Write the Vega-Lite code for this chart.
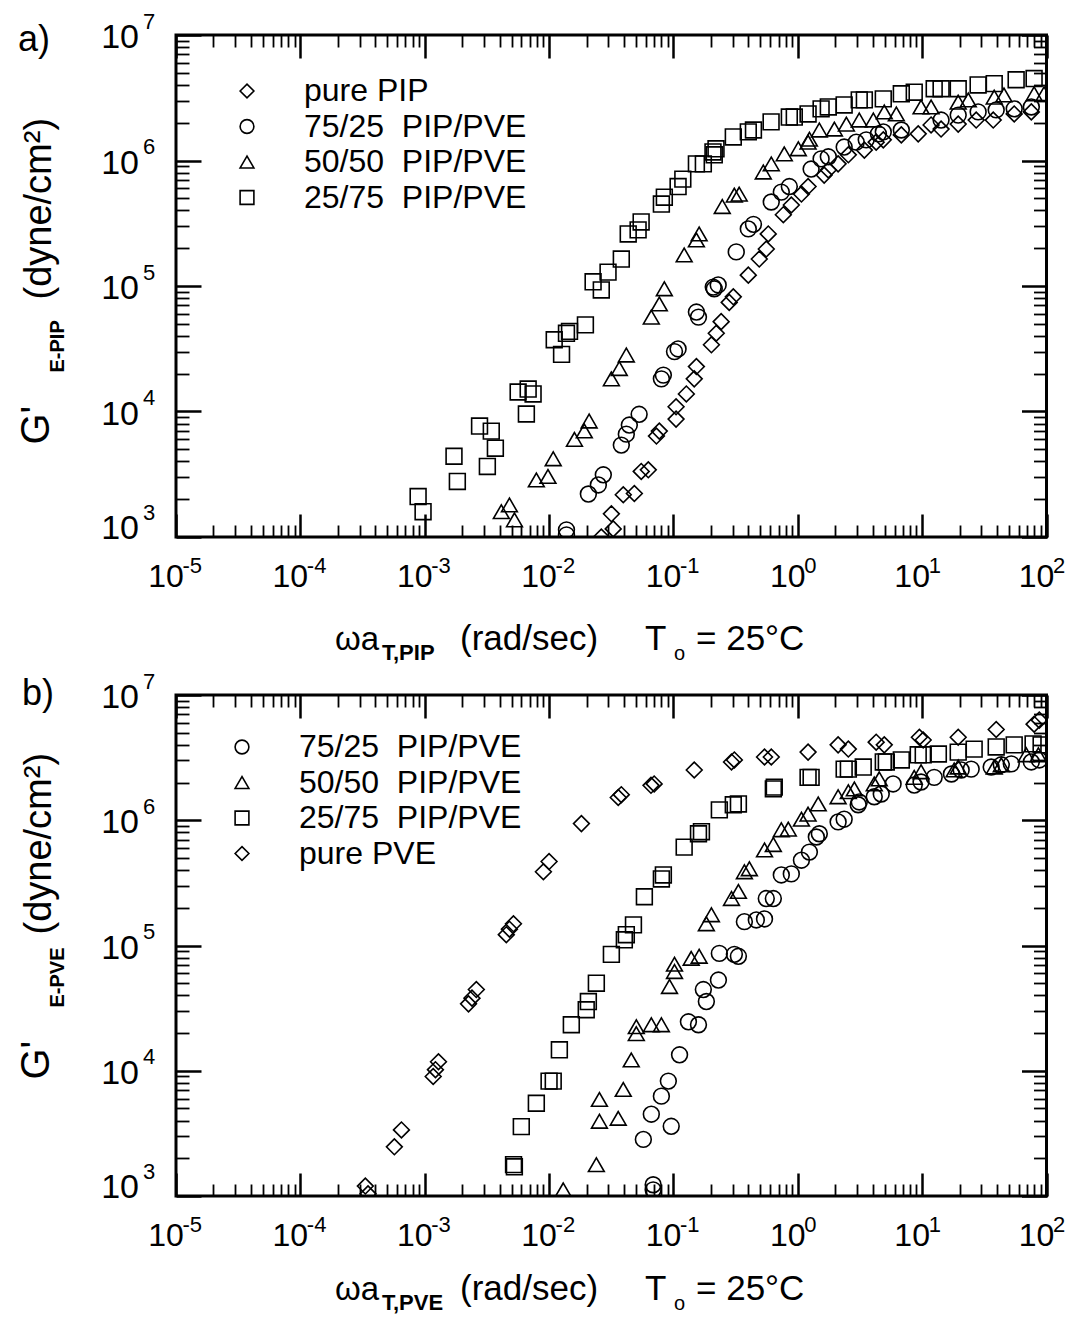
{
"$schema":"https://vega.github.io/schema/vega-lite/v6.json",
"padding":{"left":15,"top":8,"right":5,"bottom":5},
"background":"white",
"config":{"font":"Liberation Sans","view":{"stroke":"black","strokeWidth":3},
 "axis":{"grid":false,"domain":false,"labelColor":"black","titleColor":"black","tickColor":"black","labelFlush":false,"labelOverlap":false,"labelBound":false,"titleFontWeight":"normal","labelFont":"Liberation Sans","titleFont":"Liberation Sans","titleAlign":"left","titleBaseline":"alphabetic"},
 "legend":{"labelFont":"Liberation Sans","labelColor":"black"}},
"datasets":{
"a":[
{"x":0.000885,"y":2100,"s":"25/75\u00a0\u00a0PIP/PVE"},{"x":0.00097,"y":1590,"s":"25/75\u00a0\u00a0PIP/PVE"},{"x":0.00172,"y":4400,"s":"25/75\u00a0\u00a0PIP/PVE"},{"x":0.00183,"y":2770,"s":"25/75\u00a0\u00a0PIP/PVE"},{"x":0.00276,"y":7660,"s":"25/75\u00a0\u00a0PIP/PVE"},{"x":0.00343,"y":6980,"s":"25/75\u00a0\u00a0PIP/PVE"},{"x":0.0037,"y":5100,"s":"25/75\u00a0\u00a0PIP/PVE"},{"x":0.00319,"y":3650,"s":"25/75\u00a0\u00a0PIP/PVE"},{"x":0.00564,"y":14300,"s":"25/75\u00a0\u00a0PIP/PVE"},{"x":0.00679,"y":15100,"s":"25/75\u00a0\u00a0PIP/PVE"},{"x":0.00744,"y":13800,"s":"25/75\u00a0\u00a0PIP/PVE"},{"x":0.00657,"y":9550,"s":"25/75\u00a0\u00a0PIP/PVE"},{"x":0.011,"y":37300,"s":"25/75\u00a0\u00a0PIP/PVE"},{"x":0.0138,"y":42000,"s":"25/75\u00a0\u00a0PIP/PVE"},{"x":0.0146,"y":43500,"s":"25/75\u00a0\u00a0PIP/PVE"},{"x":0.0196,"y":49000,"s":"25/75\u00a0\u00a0PIP/PVE"},{"x":0.0126,"y":28500,"s":"25/75\u00a0\u00a0PIP/PVE"},{"x":0.0226,"y":108000,"s":"25/75\u00a0\u00a0PIP/PVE"},{"x":0.0263,"y":93000,"s":"25/75\u00a0\u00a0PIP/PVE"},{"x":0.0298,"y":129000,"s":"25/75\u00a0\u00a0PIP/PVE"},{"x":0.0381,"y":164000,"s":"25/75\u00a0\u00a0PIP/PVE"},{"x":0.0433,"y":260000,"s":"25/75\u00a0\u00a0PIP/PVE"},{"x":0.052,"y":280000,"s":"25/75\u00a0\u00a0PIP/PVE"},{"x":0.055,"y":324000,"s":"25/75\u00a0\u00a0PIP/PVE"},{"x":0.08,"y":450000,"s":"25/75\u00a0\u00a0PIP/PVE"},{"x":0.0845,"y":510000,"s":"25/75\u00a0\u00a0PIP/PVE"},{"x":0.109,"y":620000,"s":"25/75\u00a0\u00a0PIP/PVE"},{"x":0.119,"y":710000,"s":"25/75\u00a0\u00a0PIP/PVE"},{"x":0.153,"y":940000,"s":"25/75\u00a0\u00a0PIP/PVE"},{"x":0.208,"y":1170000,"s":"25/75\u00a0\u00a0PIP/PVE"},{"x":0.174,"y":940000,"s":"25/75\u00a0\u00a0PIP/PVE"},{"x":0.213,"y":1110000,"s":"25/75\u00a0\u00a0PIP/PVE"},{"x":0.22,"y":1240000,"s":"25/75\u00a0\u00a0PIP/PVE"},{"x":0.303,"y":1540000,"s":"25/75\u00a0\u00a0PIP/PVE"},{"x":0.4,"y":1690000,"s":"25/75\u00a0\u00a0PIP/PVE"},{"x":0.44,"y":1750000,"s":"25/75\u00a0\u00a0PIP/PVE"},{"x":0.61,"y":2030000,"s":"25/75\u00a0\u00a0PIP/PVE"},{"x":0.855,"y":2220000,"s":"25/75\u00a0\u00a0PIP/PVE"},{"x":0.937,"y":2220000,"s":"25/75\u00a0\u00a0PIP/PVE"},{"x":1.21,"y":2350000,"s":"25/75\u00a0\u00a0PIP/PVE"},{"x":1.54,"y":2580000,"s":"25/75\u00a0\u00a0PIP/PVE"},{"x":1.76,"y":2670000,"s":"25/75\u00a0\u00a0PIP/PVE"},{"x":2.36,"y":2770000,"s":"25/75\u00a0\u00a0PIP/PVE"},{"x":3.12,"y":3040000,"s":"25/75\u00a0\u00a0PIP/PVE"},{"x":3.43,"y":3040000,"s":"25/75\u00a0\u00a0PIP/PVE"},{"x":4.87,"y":3100000,"s":"25/75\u00a0\u00a0PIP/PVE"},{"x":6.8,"y":3400000,"s":"25/75\u00a0\u00a0PIP/PVE"},{"x":8.64,"y":3500000,"s":"25/75\u00a0\u00a0PIP/PVE"},{"x":12.5,"y":3730000,"s":"25/75\u00a0\u00a0PIP/PVE"},{"x":14.2,"y":3730000,"s":"25/75\u00a0\u00a0PIP/PVE"},{"x":19.5,"y":3730000,"s":"25/75\u00a0\u00a0PIP/PVE"},{"x":28.2,"y":4000000,"s":"25/75\u00a0\u00a0PIP/PVE"},{"x":38,"y":4100000,"s":"25/75\u00a0\u00a0PIP/PVE"},{"x":57,"y":4400000,"s":"25/75\u00a0\u00a0PIP/PVE"},{"x":79.5,"y":4500000,"s":"25/75\u00a0\u00a0PIP/PVE"},
{"x":0.00413,"y":1590,"s":"50/50\u00a0\u00a0PIP/PVE"},{"x":0.0048,"y":1800,"s":"50/50\u00a0\u00a0PIP/PVE"},{"x":0.00527,"y":1370,"s":"50/50\u00a0\u00a0PIP/PVE"},{"x":0.0079,"y":2850,"s":"50/50\u00a0\u00a0PIP/PVE"},{"x":0.0098,"y":3040,"s":"50/50\u00a0\u00a0PIP/PVE"},{"x":0.0108,"y":4200,"s":"50/50\u00a0\u00a0PIP/PVE"},{"x":0.016,"y":6000,"s":"50/50\u00a0\u00a0PIP/PVE"},{"x":0.0192,"y":7000,"s":"50/50\u00a0\u00a0PIP/PVE"},{"x":0.021,"y":8400,"s":"50/50\u00a0\u00a0PIP/PVE"},{"x":0.0317,"y":18200,"s":"50/50\u00a0\u00a0PIP/PVE"},{"x":0.0367,"y":22000,"s":"50/50\u00a0\u00a0PIP/PVE"},{"x":0.0418,"y":28200,"s":"50/50\u00a0\u00a0PIP/PVE"},{"x":0.0664,"y":56500,"s":"50/50\u00a0\u00a0PIP/PVE"},{"x":0.077,"y":72000,"s":"50/50\u00a0\u00a0PIP/PVE"},{"x":0.0845,"y":95000,"s":"50/50\u00a0\u00a0PIP/PVE"},{"x":0.122,"y":177000,"s":"50/50\u00a0\u00a0PIP/PVE"},{"x":0.153,"y":233000,"s":"50/50\u00a0\u00a0PIP/PVE"},{"x":0.161,"y":260000,"s":"50/50\u00a0\u00a0PIP/PVE"},{"x":0.247,"y":430000,"s":"50/50\u00a0\u00a0PIP/PVE"},{"x":0.309,"y":530000,"s":"50/50\u00a0\u00a0PIP/PVE"},{"x":0.338,"y":540000,"s":"50/50\u00a0\u00a0PIP/PVE"},{"x":0.528,"y":810000,"s":"50/50\u00a0\u00a0PIP/PVE"},{"x":0.612,"y":940000,"s":"50/50\u00a0\u00a0PIP/PVE"},{"x":0.779,"y":1130000,"s":"50/50\u00a0\u00a0PIP/PVE"},{"x":1.01,"y":1240000,"s":"50/50\u00a0\u00a0PIP/PVE"},{"x":1.21,"y":1400000,"s":"50/50\u00a0\u00a0PIP/PVE"},{"x":1.24,"y":1480000,"s":"50/50\u00a0\u00a0PIP/PVE"},{"x":1.49,"y":1750000,"s":"50/50\u00a0\u00a0PIP/PVE"},{"x":1.97,"y":1780000,"s":"50/50\u00a0\u00a0PIP/PVE"},{"x":2.46,"y":1950000,"s":"50/50\u00a0\u00a0PIP/PVE"},{"x":3.12,"y":2100000,"s":"50/50\u00a0\u00a0PIP/PVE"},{"x":4.05,"y":2100000,"s":"50/50\u00a0\u00a0PIP/PVE"},{"x":4.96,"y":2440000,"s":"50/50\u00a0\u00a0PIP/PVE"},{"x":6.2,"y":2350000,"s":"50/50\u00a0\u00a0PIP/PVE"},{"x":9.8,"y":2670000,"s":"50/50\u00a0\u00a0PIP/PVE"},{"x":11.8,"y":2670000,"s":"50/50\u00a0\u00a0PIP/PVE"},{"x":19.5,"y":2920000,"s":"50/50\u00a0\u00a0PIP/PVE"},{"x":23.5,"y":3040000,"s":"50/50\u00a0\u00a0PIP/PVE"},{"x":38,"y":3200000,"s":"50/50\u00a0\u00a0PIP/PVE"},{"x":45.5,"y":3330000,"s":"50/50\u00a0\u00a0PIP/PVE"},{"x":79.5,"y":3400000,"s":"50/50\u00a0\u00a0PIP/PVE"},{"x":95.6,"y":3400000,"s":"50/50\u00a0\u00a0PIP/PVE"},
{"x":0.0138,"y":1140,"s":"75/25\u00a0\u00a0PIP/PVE"},{"x":0.0138,"y":1040,"s":"75/25\u00a0\u00a0PIP/PVE"},{"x":0.0207,"y":2200,"s":"75/25\u00a0\u00a0PIP/PVE"},{"x":0.0249,"y":2600,"s":"75/25\u00a0\u00a0PIP/PVE"},{"x":0.0273,"y":3130,"s":"75/25\u00a0\u00a0PIP/PVE"},{"x":0.0381,"y":5400,"s":"75/25\u00a0\u00a0PIP/PVE"},{"x":0.0418,"y":6600,"s":"75/25\u00a0\u00a0PIP/PVE"},{"x":0.053,"y":9500,"s":"75/25\u00a0\u00a0PIP/PVE"},{"x":0.0442,"y":7800,"s":"75/25\u00a0\u00a0PIP/PVE"},{"x":0.08,"y":18200,"s":"75/25\u00a0\u00a0PIP/PVE"},{"x":0.083,"y":19500,"s":"75/25\u00a0\u00a0PIP/PVE"},{"x":0.102,"y":30000,"s":"75/25\u00a0\u00a0PIP/PVE"},{"x":0.109,"y":31500,"s":"75/25\u00a0\u00a0PIP/PVE"},{"x":0.153,"y":62000,"s":"75/25\u00a0\u00a0PIP/PVE"},{"x":0.159,"y":56500,"s":"75/25\u00a0\u00a0PIP/PVE"},{"x":0.213,"y":95000,"s":"75/25\u00a0\u00a0PIP/PVE"},{"x":0.209,"y":98000,"s":"75/25\u00a0\u00a0PIP/PVE"},{"x":0.229,"y":102000,"s":"75/25\u00a0\u00a0PIP/PVE"},{"x":0.32,"y":187000,"s":"75/25\u00a0\u00a0PIP/PVE"},{"x":0.4,"y":285000,"s":"75/25\u00a0\u00a0PIP/PVE"},{"x":0.44,"y":310000,"s":"75/25\u00a0\u00a0PIP/PVE"},{"x":0.612,"y":467000,"s":"75/25\u00a0\u00a0PIP/PVE"},{"x":0.737,"y":560000,"s":"75/25\u00a0\u00a0PIP/PVE"},{"x":0.855,"y":620000,"s":"75/25\u00a0\u00a0PIP/PVE"},{"x":1.28,"y":855000,"s":"75/25\u00a0\u00a0PIP/PVE"},{"x":1.54,"y":1030000,"s":"75/25\u00a0\u00a0PIP/PVE"},{"x":1.76,"y":1070000,"s":"75/25\u00a0\u00a0PIP/PVE"},{"x":2.36,"y":1280000,"s":"75/25\u00a0\u00a0PIP/PVE"},{"x":2.95,"y":1400000,"s":"75/25\u00a0\u00a0PIP/PVE"},{"x":3.55,"y":1460000,"s":"75/25\u00a0\u00a0PIP/PVE"},{"x":4.45,"y":1630000,"s":"75/25\u00a0\u00a0PIP/PVE"},{"x":4.87,"y":1690000,"s":"75/25\u00a0\u00a0PIP/PVE"},{"x":6.8,"y":1750000,"s":"75/25\u00a0\u00a0PIP/PVE"},{"x":14.2,"y":2100000,"s":"75/25\u00a0\u00a0PIP/PVE"},{"x":19.5,"y":2300000,"s":"75/25\u00a0\u00a0PIP/PVE"},{"x":28.2,"y":2440000,"s":"75/25\u00a0\u00a0PIP/PVE"},{"x":39.4,"y":2530000,"s":"75/25\u00a0\u00a0PIP/PVE"},{"x":55,"y":2580000,"s":"75/25\u00a0\u00a0PIP/PVE"},{"x":75.5,"y":2670000,"s":"75/25\u00a0\u00a0PIP/PVE"},
{"x":0.0263,"y":1000,"s":"\u00a0pure PIP"},{"x":0.0328,"y":1160,"s":"\u00a0pure PIP"},{"x":0.0317,"y":1530,"s":"\u00a0pure PIP"},{"x":0.0395,"y":2170,"s":"\u00a0pure PIP"},{"x":0.0485,"y":2220,"s":"\u00a0pure PIP"},{"x":0.0551,"y":3330,"s":"\u00a0pure PIP"},{"x":0.0628,"y":3430,"s":"\u00a0pure PIP"},{"x":0.073,"y":6370,"s":"\u00a0pure PIP"},{"x":0.077,"y":6980,"s":"\u00a0pure PIP"},{"x":0.105,"y":8700,"s":"\u00a0pure PIP"},{"x":0.105,"y":10900,"s":"\u00a0pure PIP"},{"x":0.127,"y":13800,"s":"\u00a0pure PIP"},{"x":0.147,"y":18200,"s":"\u00a0pure PIP"},{"x":0.153,"y":22800,"s":"\u00a0pure PIP"},{"x":0.202,"y":34000,"s":"\u00a0pure PIP"},{"x":0.221,"y":42000,"s":"\u00a0pure PIP"},{"x":0.242,"y":52000,"s":"\u00a0pure PIP"},{"x":0.281,"y":74000,"s":"\u00a0pure PIP"},{"x":0.303,"y":82000,"s":"\u00a0pure PIP"},{"x":0.4,"y":122000,"s":"\u00a0pure PIP"},{"x":0.49,"y":164000,"s":"\u00a0pure PIP"},{"x":0.558,"y":197000,"s":"\u00a0pure PIP"},{"x":0.579,"y":260000,"s":"\u00a0pure PIP"},{"x":0.765,"y":370000,"s":"\u00a0pure PIP"},{"x":0.887,"y":442000,"s":"\u00a0pure PIP"},{"x":1.07,"y":540000,"s":"\u00a0pure PIP"},{"x":1.21,"y":620000,"s":"\u00a0pure PIP"},{"x":1.63,"y":765000,"s":"\u00a0pure PIP"},{"x":1.76,"y":840000,"s":"\u00a0pure PIP"},{"x":2.11,"y":940000,"s":"\u00a0pure PIP"},{"x":2.55,"y":1110000,"s":"\u00a0pure PIP"},{"x":3.43,"y":1210000,"s":"\u00a0pure PIP"},{"x":4.27,"y":1400000,"s":"\u00a0pure PIP"},{"x":4.87,"y":1460000,"s":"\u00a0pure PIP"},{"x":6.8,"y":1600000,"s":"\u00a0pure PIP"},{"x":9.3,"y":1630000,"s":"\u00a0pure PIP"},{"x":11.8,"y":1920000,"s":"\u00a0pure PIP"},{"x":14.2,"y":1780000,"s":"\u00a0pure PIP"},{"x":19.5,"y":1950000,"s":"\u00a0pure PIP"},{"x":27.2,"y":2100000,"s":"\u00a0pure PIP"},{"x":37.3,"y":2100000,"s":"\u00a0pure PIP"},{"x":55,"y":2350000,"s":"\u00a0pure PIP"},{"x":75.5,"y":2440000,"s":"\u00a0pure PIP"}
],
"b":[
{"x":0.000333,"y":1200,"s":"pure PVE"},{"x":0.00035,"y":1040,"s":"pure PVE"},{"x":0.00057,"y":2470,"s":"pure PVE"},{"x":0.00065,"y":3370,"s":"pure PVE"},{"x":0.00117,"y":9000,"s":"pure PVE"},{"x":0.00122,"y":10200,"s":"pure PVE"},{"x":0.00129,"y":11800,"s":"pure PVE"},{"x":0.00225,"y":34200,"s":"pure PVE"},{"x":0.0024,"y":38000,"s":"pure PVE"},{"x":0.0026,"y":44500,"s":"pure PVE"},{"x":0.00453,"y":122000,"s":"pure PVE"},{"x":0.0048,"y":135000,"s":"pure PVE"},{"x":0.00517,"y":149000,"s":"pure PVE"},{"x":0.009,"y":388000,"s":"pure PVE"},{"x":0.01,"y":468000,"s":"pure PVE"},{"x":0.0182,"y":940000,"s":"pure PVE"},{"x":0.036,"y":1520000,"s":"pure PVE"},{"x":0.0381,"y":1600000,"s":"pure PVE"},{"x":0.066,"y":1900000,"s":"pure PVE"},{"x":0.07,"y":1950000,"s":"pure PVE"},{"x":0.147,"y":2520000,"s":"pure PVE"},{"x":0.293,"y":2920000,"s":"pure PVE"},{"x":0.309,"y":3030000,"s":"pure PVE"},{"x":0.54,"y":3200000,"s":"pure PVE"},{"x":0.612,"y":3200000,"s":"pure PVE"},{"x":1.21,"y":3500000,"s":"pure PVE"},{"x":2.11,"y":4000000,"s":"pure PVE"},{"x":2.55,"y":3700000,"s":"pure PVE"},{"x":4.27,"y":4200000,"s":"pure PVE"},{"x":4.96,"y":4000000,"s":"pure PVE"},{"x":9.5,"y":4600000,"s":"pure PVE"},{"x":10.2,"y":4370000,"s":"pure PVE"},{"x":19.5,"y":4600000,"s":"pure PVE"},{"x":39.4,"y":5300000,"s":"pure PVE"},{"x":79.5,"y":5850000,"s":"pure PVE"},{"x":87.5,"y":6300000,"s":"pure PVE"},
{"x":0.00518,"y":1780,"s":"25/75\u00a0\u00a0PIP/PVE"},{"x":0.00526,"y":1710,"s":"25/75\u00a0\u00a0PIP/PVE"},{"x":0.00598,"y":3580,"s":"25/75\u00a0\u00a0PIP/PVE"},{"x":0.0079,"y":5500,"s":"25/75\u00a0\u00a0PIP/PVE"},{"x":0.01,"y":8270,"s":"25/75\u00a0\u00a0PIP/PVE"},{"x":0.0108,"y":8270,"s":"25/75\u00a0\u00a0PIP/PVE"},{"x":0.0121,"y":14700,"s":"25/75\u00a0\u00a0PIP/PVE"},{"x":0.0151,"y":23300,"s":"25/75\u00a0\u00a0PIP/PVE"},{"x":0.0199,"y":30700,"s":"25/75\u00a0\u00a0PIP/PVE"},{"x":0.0207,"y":35700,"s":"25/75\u00a0\u00a0PIP/PVE"},{"x":0.024,"y":50000,"s":"25/75\u00a0\u00a0PIP/PVE"},{"x":0.0317,"y":85000,"s":"25/75\u00a0\u00a0PIP/PVE"},{"x":0.0403,"y":111000,"s":"25/75\u00a0\u00a0PIP/PVE"},{"x":0.0418,"y":122000,"s":"25/75\u00a0\u00a0PIP/PVE"},{"x":0.0477,"y":146000,"s":"25/75\u00a0\u00a0PIP/PVE"},{"x":0.0584,"y":245000,"s":"25/75\u00a0\u00a0PIP/PVE"},{"x":0.08,"y":340000,"s":"25/75\u00a0\u00a0PIP/PVE"},{"x":0.083,"y":366000,"s":"25/75\u00a0\u00a0PIP/PVE"},{"x":0.122,"y":610000,"s":"25/75\u00a0\u00a0PIP/PVE"},{"x":0.159,"y":780000,"s":"25/75\u00a0\u00a0PIP/PVE"},{"x":0.168,"y":810000,"s":"25/75\u00a0\u00a0PIP/PVE"},{"x":0.234,"y":1210000,"s":"25/75\u00a0\u00a0PIP/PVE"},{"x":0.303,"y":1330000,"s":"25/75\u00a0\u00a0PIP/PVE"},{"x":0.333,"y":1350000,"s":"25/75\u00a0\u00a0PIP/PVE"},{"x":0.636,"y":1780000,"s":"25/75\u00a0\u00a0PIP/PVE"},{"x":0.647,"y":1840000,"s":"25/75\u00a0\u00a0PIP/PVE"},{"x":1.21,"y":2200000,"s":"25/75\u00a0\u00a0PIP/PVE"},{"x":1.28,"y":2200000,"s":"25/75\u00a0\u00a0PIP/PVE"},{"x":2.36,"y":2560000,"s":"25/75\u00a0\u00a0PIP/PVE"},{"x":2.55,"y":2560000,"s":"25/75\u00a0\u00a0PIP/PVE"},{"x":3.36,"y":2660000,"s":"25/75\u00a0\u00a0PIP/PVE"},{"x":4.87,"y":2920000,"s":"25/75\u00a0\u00a0PIP/PVE"},{"x":5.15,"y":2920000,"s":"25/75\u00a0\u00a0PIP/PVE"},{"x":6.8,"y":3030000,"s":"25/75\u00a0\u00a0PIP/PVE"},{"x":9.3,"y":3330000,"s":"25/75\u00a0\u00a0PIP/PVE"},{"x":10.2,"y":3330000,"s":"25/75\u00a0\u00a0PIP/PVE"},{"x":13.5,"y":3380000,"s":"25/75\u00a0\u00a0PIP/PVE"},{"x":19.5,"y":3500000,"s":"25/75\u00a0\u00a0PIP/PVE"},{"x":26.2,"y":3700000,"s":"25/75\u00a0\u00a0PIP/PVE"},{"x":39.4,"y":3850000,"s":"25/75\u00a0\u00a0PIP/PVE"},{"x":55,"y":4000000,"s":"25/75\u00a0\u00a0PIP/PVE"},{"x":78,"y":4070000,"s":"25/75\u00a0\u00a0PIP/PVE"},{"x":90.5,"y":4000000,"s":"25/75\u00a0\u00a0PIP/PVE"},
{"x":0.013,"y":1120,"s":"50/50\u00a0\u00a0PIP/PVE"},{"x":0.024,"y":1780,"s":"50/50\u00a0\u00a0PIP/PVE"},{"x":0.0254,"y":3950,"s":"50/50\u00a0\u00a0PIP/PVE"},{"x":0.036,"y":4170,"s":"50/50\u00a0\u00a0PIP/PVE"},{"x":0.0254,"y":5900,"s":"50/50\u00a0\u00a0PIP/PVE"},{"x":0.0395,"y":7100,"s":"50/50\u00a0\u00a0PIP/PVE"},{"x":0.0458,"y":12200,"s":"50/50\u00a0\u00a0PIP/PVE"},{"x":0.0503,"y":19800,"s":"50/50\u00a0\u00a0PIP/PVE"},{"x":0.0503,"y":22500,"s":"50/50\u00a0\u00a0PIP/PVE"},{"x":0.0664,"y":23300,"s":"50/50\u00a0\u00a0PIP/PVE"},{"x":0.08,"y":23300,"s":"50/50\u00a0\u00a0PIP/PVE"},{"x":0.093,"y":47000,"s":"50/50\u00a0\u00a0PIP/PVE"},{"x":0.102,"y":62000,"s":"50/50\u00a0\u00a0PIP/PVE"},{"x":0.102,"y":71000,"s":"50/50\u00a0\u00a0PIP/PVE"},{"x":0.139,"y":79000,"s":"50/50\u00a0\u00a0PIP/PVE"},{"x":0.161,"y":82000,"s":"50/50\u00a0\u00a0PIP/PVE"},{"x":0.184,"y":149000,"s":"50/50\u00a0\u00a0PIP/PVE"},{"x":0.202,"y":176000,"s":"50/50\u00a0\u00a0PIP/PVE"},{"x":0.293,"y":237000,"s":"50/50\u00a0\u00a0PIP/PVE"},{"x":0.333,"y":270000,"s":"50/50\u00a0\u00a0PIP/PVE"},{"x":0.372,"y":388000,"s":"50/50\u00a0\u00a0PIP/PVE"},{"x":0.408,"y":410000,"s":"50/50\u00a0\u00a0PIP/PVE"},{"x":0.54,"y":580000,"s":"50/50\u00a0\u00a0PIP/PVE"},{"x":0.636,"y":640000,"s":"50/50\u00a0\u00a0PIP/PVE"},{"x":0.737,"y":840000,"s":"50/50\u00a0\u00a0PIP/PVE"},{"x":0.839,"y":850000,"s":"50/50\u00a0\u00a0PIP/PVE"},{"x":1.07,"y":1020000,"s":"50/50\u00a0\u00a0PIP/PVE"},{"x":1.21,"y":1120000,"s":"50/50\u00a0\u00a0PIP/PVE"},{"x":1.46,"y":1350000,"s":"50/50\u00a0\u00a0PIP/PVE"},{"x":2.11,"y":1540000,"s":"50/50\u00a0\u00a0PIP/PVE"},{"x":2.55,"y":1690000,"s":"50/50\u00a0\u00a0PIP/PVE"},{"x":2.85,"y":1780000,"s":"50/50\u00a0\u00a0PIP/PVE"},{"x":4.12,"y":1950000,"s":"50/50\u00a0\u00a0PIP/PVE"},{"x":4.52,"y":2140000,"s":"50/50\u00a0\u00a0PIP/PVE"},{"x":8.64,"y":2200000,"s":"50/50\u00a0\u00a0PIP/PVE"},{"x":9.8,"y":2440000,"s":"50/50\u00a0\u00a0PIP/PVE"},{"x":18.1,"y":2520000,"s":"50/50\u00a0\u00a0PIP/PVE"},{"x":19.5,"y":2660000,"s":"50/50\u00a0\u00a0PIP/PVE"},{"x":38,"y":2660000,"s":"50/50\u00a0\u00a0PIP/PVE"},{"x":43.3,"y":2770000,"s":"50/50\u00a0\u00a0PIP/PVE"},{"x":68.7,"y":3330000,"s":"50/50\u00a0\u00a0PIP/PVE"},{"x":86,"y":3330000,"s":"50/50\u00a0\u00a0PIP/PVE"},
{"x":0.0687,"y":1230,"s":"75/25\u00a0\u00a0PIP/PVE"},{"x":0.0687,"y":1120,"s":"75/25\u00a0\u00a0PIP/PVE"},{"x":0.0573,"y":2830,"s":"75/25\u00a0\u00a0PIP/PVE"},{"x":0.096,"y":3600,"s":"75/25\u00a0\u00a0PIP/PVE"},{"x":0.0664,"y":4500,"s":"75/25\u00a0\u00a0PIP/PVE"},{"x":0.08,"y":6270,"s":"75/25\u00a0\u00a0PIP/PVE"},{"x":0.091,"y":8270,"s":"75/25\u00a0\u00a0PIP/PVE"},{"x":0.112,"y":13400,"s":"75/25\u00a0\u00a0PIP/PVE"},{"x":0.132,"y":24600,"s":"75/25\u00a0\u00a0PIP/PVE"},{"x":0.159,"y":23300,"s":"75/25\u00a0\u00a0PIP/PVE"},{"x":0.184,"y":35700,"s":"75/25\u00a0\u00a0PIP/PVE"},{"x":0.174,"y":44500,"s":"75/25\u00a0\u00a0PIP/PVE"},{"x":0.23,"y":53000,"s":"75/25\u00a0\u00a0PIP/PVE"},{"x":0.234,"y":86500,"s":"75/25\u00a0\u00a0PIP/PVE"},{"x":0.309,"y":85000,"s":"75/25\u00a0\u00a0PIP/PVE"},{"x":0.333,"y":82000,"s":"75/25\u00a0\u00a0PIP/PVE"},{"x":0.372,"y":155000,"s":"75/25\u00a0\u00a0PIP/PVE"},{"x":0.464,"y":160000,"s":"75/25\u00a0\u00a0PIP/PVE"},{"x":0.54,"y":163000,"s":"75/25\u00a0\u00a0PIP/PVE"},{"x":0.558,"y":237000,"s":"75/25\u00a0\u00a0PIP/PVE"},{"x":0.636,"y":237000,"s":"75/25\u00a0\u00a0PIP/PVE"},{"x":0.737,"y":366000,"s":"75/25\u00a0\u00a0PIP/PVE"},{"x":0.887,"y":373000,"s":"75/25\u00a0\u00a0PIP/PVE"},{"x":1.07,"y":480000,"s":"75/25\u00a0\u00a0PIP/PVE"},{"x":1.24,"y":557000,"s":"75/25\u00a0\u00a0PIP/PVE"},{"x":1.41,"y":735000,"s":"75/25\u00a0\u00a0PIP/PVE"},{"x":1.49,"y":780000,"s":"75/25\u00a0\u00a0PIP/PVE"},{"x":2.11,"y":970000,"s":"75/25\u00a0\u00a0PIP/PVE"},{"x":2.36,"y":1020000,"s":"75/25\u00a0\u00a0PIP/PVE"},{"x":3.06,"y":1330000,"s":"75/25\u00a0\u00a0PIP/PVE"},{"x":3.12,"y":1400000,"s":"75/25\u00a0\u00a0PIP/PVE"},{"x":4.12,"y":1540000,"s":"75/25\u00a0\u00a0PIP/PVE"},{"x":4.69,"y":1620000,"s":"75/25\u00a0\u00a0PIP/PVE"},{"x":5.84,"y":1950000,"s":"75/25\u00a0\u00a0PIP/PVE"},{"x":8.64,"y":1910000,"s":"75/25\u00a0\u00a0PIP/PVE"},{"x":9.8,"y":2020000,"s":"75/25\u00a0\u00a0PIP/PVE"},{"x":12.5,"y":2200000,"s":"75/25\u00a0\u00a0PIP/PVE"},{"x":17.2,"y":2340000,"s":"75/25\u00a0\u00a0PIP/PVE"},{"x":20.6,"y":2520000,"s":"75/25\u00a0\u00a0PIP/PVE"},{"x":24.8,"y":2560000,"s":"75/25\u00a0\u00a0PIP/PVE"},{"x":35.9,"y":2660000,"s":"75/25\u00a0\u00a0PIP/PVE"},{"x":43.3,"y":2770000,"s":"75/25\u00a0\u00a0PIP/PVE"},{"x":52.1,"y":2820000,"s":"75/25\u00a0\u00a0PIP/PVE"},{"x":75.5,"y":2920000,"s":"75/25\u00a0\u00a0PIP/PVE"},{"x":87.5,"y":3030000,"s":"75/25\u00a0\u00a0PIP/PVE"}
]},
"spacing":158,
"bounds":"flush",
"resolve":{"scale":{"shape":"independent"}},
"vconcat":[
{"width":870.5,"height":502,"data":{"name":"a"},
 "resolve":{"axis":{"x":"independent","y":"independent"}},
 "layer":[
  {"mark":{"type":"point","filled":false,"stroke":"black","strokeWidth":1.6,"size":250,"clip":true,"opacity":1},
   "encoding":{
    "x":{"field":"x","type":"quantitative","scale":{"type":"log","domain":[0.00001,100],"nice":false},
      "axis":{"orient":"bottom","values":[0.00001,0.0001,0.001,0.01,0.1,1,10,100],"ticks":false,"labelFontSize":32,"labelPadding":24,"labelAlign":"center","labelBaseline":"top","labelOffset":-10.5,"labelExpr":"'10'",
       "title":"ωa","titleFontSize":33,"titleX":158.5,"titleY":112}},
    "y":{"field":"y","type":"quantitative","scale":{"type":"log","domain":[1000,10000000],"nice":false},
      "axis":{"orient":"left","values":[1000,10000,100000,1000000,10000000],"ticks":false,"labelFontSize":34,"labelPadding":37.5,"labelAlign":"right","labelBaseline":"middle",
       "labelOffset":{"condition":{"test":"datum.value < 2000","value":-8.5},"value":2.5},"labelExpr":"'10'",
       "title":"(dyne/cm²)","titleFontSize":38,"titleAngle":-90,"titleX":-125.5,"titleY":264}},
    "shape":{"field":"s","type":"nominal","scale":{"domain":["\u00a0pure PIP","75/25\u00a0\u00a0PIP/PVE","50/50\u00a0\u00a0PIP/PVE","25/75\u00a0\u00a0PIP/PVE"],"range":["diamond","circle","triangle-up","square"]},
      "legend":{"orient":"none","legendX":55,"legendY":40,"title":null,"labelFontSize":32,"symbolSize":190,"symbolStrokeWidth":1.6,"symbolStrokeColor":"black","symbolFillColor":"transparent","labelOffset":41,"rowPadding":3.5,"padding":0,"labelLimit":500}}
   }},
  {"mark":{"type":"point","opacity":0},
   "encoding":{
    "x":{"field":"x","type":"quantitative","scale":{"type":"log","domain":[0.00001,100],"nice":false},
      "axis":{"orient":"bottom","values":[0.00001,0.0001,0.001,0.01,0.1,1,10,100],"labels":false,"tickSize":-23,"tickWidth":2.5,"title":"T,PIP","titleFontSize":22,"titleFontWeight":"bold","titleX":205.5,"titleY":122}},
    "y":{"field":"y","type":"quantitative","scale":{"type":"log","domain":[1000,10000000],"nice":false},
      "axis":{"orient":"left","values":[1000,10000,100000,1000000,10000000],"labels":false,"tickSize":-25,"tickWidth":2.5,"title":"G'","titleFontSize":40,"titleAngle":-90,"titleX":-127.5,"titleY":409}}
   }},
  {"mark":{"type":"point","opacity":0},
   "encoding":{
    "x":{"field":"x","type":"quantitative","scale":{"type":"log","domain":[0.00001,100],"nice":false},
      "axis":{"orient":"bottom","values":[0.00002,0.00003,0.00004,0.00005,0.00006,0.00007,0.00008,0.00009,0.0002,0.0003,0.0004,0.0005,0.0006,0.0007,0.0008,0.0009,0.002,0.003,0.004,0.005,0.006,0.007,0.008,0.009,0.02,0.03,0.04,0.05,0.06,0.07,0.08,0.09,0.2,0.3,0.4,0.5,0.6,0.7,0.8,0.9,2,3,4,5,6,7,8,9,20,30,40,50,60,70,80,90],"labels":false,"tickSize":-12,"tickWidth":1.8,"title":"(rad/sec)","titleFontSize":35,"titleX":283.5,"titleY":112}},
    "y":{"field":"y","type":"quantitative","scale":{"type":"log","domain":[1000,10000000],"nice":false},
      "axis":{"orient":"left","values":[2000,3000,4000,5000,6000,7000,8000,9000,20000,30000,40000,50000,60000,70000,80000,90000,200000,300000,400000,500000,600000,700000,800000,900000,2000000,3000000,4000000,5000000,6000000,7000000,8000000,9000000],"labels":false,"tickSize":-13,"tickWidth":1.8,"title":"E-PIP","titleFontSize":20,"titleFontWeight":"bold","titleAngle":-90,"titleX":-112.5,"titleY":337}}
   }},
  {"mark":{"type":"point","opacity":0},
   "encoding":{
    "x":{"field":"x","type":"quantitative","scale":{"type":"log","domain":[0.00001,100],"nice":false},
      "axis":{"orient":"top","values":[0.00001,0.0001,0.001,0.01,0.1,1,10,100],"labels":false,"tickSize":-23,"tickWidth":2.5,"title":"T","titleFontSize":35,"titleAngle":0,"titleX":468.5,"titleY":614}},
    "y":{"field":"y","type":"quantitative","scale":{"type":"log","domain":[1000,10000000],"nice":false},
      "axis":{"orient":"right","values":[1000,10000,100000,1000000,10000000],"labels":false,"tickSize":-25,"tickWidth":2.5,"title":"a)","titleFontSize":36,"titleAngle":0,"titleX":-1029,"titleY":15}}
   }},
  {"mark":{"type":"point","opacity":0},
   "encoding":{
    "x":{"field":"x","type":"quantitative","scale":{"type":"log","domain":[0.00001,100],"nice":false},
      "axis":{"orient":"top","values":[0.00002,0.00003,0.00004,0.00005,0.00006,0.00007,0.00008,0.00009,0.0002,0.0003,0.0004,0.0005,0.0006,0.0007,0.0008,0.0009,0.002,0.003,0.004,0.005,0.006,0.007,0.008,0.009,0.02,0.03,0.04,0.05,0.06,0.07,0.08,0.09,0.2,0.3,0.4,0.5,0.6,0.7,0.8,0.9,2,3,4,5,6,7,8,9,20,30,40,50,60,70,80,90],"labels":false,"tickSize":-12,"tickWidth":1.8,"title":"o","titleFontSize":20,"titleAngle":0,"titleX":497.5,"titleY":624}},
    "y":{"field":"y","type":"quantitative","scale":{"type":"log","domain":[1000,10000000],"nice":false},
      "axis":{"orient":"right","values":[2000,3000,4000,5000,6000,7000,8000,9000,20000,30000,40000,50000,60000,70000,80000,90000,200000,300000,400000,500000,600000,700000,800000,900000,2000000,3000000,4000000,5000000,6000000,7000000,8000000,9000000],"labels":false,"tickSize":-13,"tickWidth":1.8,"title":"= 25°C","titleFontSize":35,"titleAngle":0,"titleX":-351,"titleY":614}}
   }},
  {"mark":{"type":"point","opacity":0},
   "encoding":{
    "x":{"field":"x","type":"quantitative","scale":{"type":"log","domain":[0.00001,100],"nice":false},
      "axis":{"orient":"bottom","values":[0.00001,0.0001,0.001,0.01,0.1,1,10,100],"ticks":false,"labelFontSize":22,"labelPadding":18.5,"labelAlign":"left","labelBaseline":"top","labelOffset":6,"labelExpr":"'' + round(log(datum.value) / LN10)","title":null}},
    "y":{"field":"y","type":"quantitative","scale":{"type":"log","domain":[1000,10000000],"nice":false},
      "axis":{"orient":"left","values":[1000,10000,100000,1000000,10000000],"ticks":false,"labelFontSize":22,"labelPadding":33.5,"labelAlign":"left","labelBaseline":"middle",
       "labelOffset":{"condition":{"test":"datum.value < 2000","value":-25},"value":-14},"labelExpr":"'' + round(log(datum.value) / LN10)","title":null}}
   }}
 ]},
{"width":870.5,"height":501,"data":{"name":"b"},
 "resolve":{"axis":{"x":"independent","y":"independent"}},
 "layer":[
  {"mark":{"type":"point","filled":false,"stroke":"black","strokeWidth":1.6,"size":250,"clip":true,"opacity":1},
   "encoding":{
    "x":{"field":"x","type":"quantitative","scale":{"type":"log","domain":[0.00001,100],"nice":false},
      "axis":{"orient":"bottom","values":[0.00001,0.0001,0.001,0.01,0.1,1,10,100],"ticks":false,"labelFontSize":32,"labelPadding":24,"labelAlign":"center","labelBaseline":"top","labelOffset":-10.5,"labelExpr":"'10'",
       "title":"ωa","titleFontSize":33,"titleX":158.5,"titleY":103}},
    "y":{"field":"y","type":"quantitative","scale":{"type":"log","domain":[1000,10000000],"nice":false},
      "axis":{"orient":"left","values":[1000,10000,100000,1000000,10000000],"ticks":false,"labelFontSize":34,"labelPadding":37.5,"labelAlign":"right","labelBaseline":"middle",
       "labelOffset":{"condition":{"test":"datum.value < 2000","value":-8.5},"value":2.5},"labelExpr":"'10'",
       "title":"(dyne/cm²)","titleFontSize":38,"titleAngle":-90,"titleX":-125.5,"titleY":239}},
    "shape":{"field":"s","type":"nominal","scale":{"domain":["75/25\u00a0\u00a0PIP/PVE","50/50\u00a0\u00a0PIP/PVE","25/75\u00a0\u00a0PIP/PVE","pure PVE"],"range":["circle","triangle-up","square","diamond"]},
      "legend":{"orient":"none","legendX":50,"legendY":36,"title":null,"labelFontSize":32,"symbolSize":190,"symbolStrokeWidth":1.6,"symbolStrokeColor":"black","symbolFillColor":"transparent","labelOffset":41,"rowPadding":3.5,"padding":0,"labelLimit":500}}
   }},
  {"mark":{"type":"point","opacity":0},
   "encoding":{
    "x":{"field":"x","type":"quantitative","scale":{"type":"log","domain":[0.00001,100],"nice":false},
      "axis":{"orient":"bottom","values":[0.00001,0.0001,0.001,0.01,0.1,1,10,100],"labels":false,"tickSize":-23,"tickWidth":2.5,"title":"T,PVE","titleFontSize":22,"titleFontWeight":"bold","titleX":205.5,"titleY":113}},
    "y":{"field":"y","type":"quantitative","scale":{"type":"log","domain":[1000,10000000],"nice":false},
      "axis":{"orient":"left","values":[1000,10000,100000,1000000,10000000],"labels":false,"tickSize":-25,"tickWidth":2.5,"title":"G'","titleFontSize":40,"titleAngle":-90,"titleX":-127.5,"titleY":384}}
   }},
  {"mark":{"type":"point","opacity":0},
   "encoding":{
    "x":{"field":"x","type":"quantitative","scale":{"type":"log","domain":[0.00001,100],"nice":false},
      "axis":{"orient":"bottom","values":[0.00002,0.00003,0.00004,0.00005,0.00006,0.00007,0.00008,0.00009,0.0002,0.0003,0.0004,0.0005,0.0006,0.0007,0.0008,0.0009,0.002,0.003,0.004,0.005,0.006,0.007,0.008,0.009,0.02,0.03,0.04,0.05,0.06,0.07,0.08,0.09,0.2,0.3,0.4,0.5,0.6,0.7,0.8,0.9,2,3,4,5,6,7,8,9,20,30,40,50,60,70,80,90],"labels":false,"tickSize":-12,"tickWidth":1.8,"title":"(rad/sec)","titleFontSize":35,"titleX":283.5,"titleY":103}},
    "y":{"field":"y","type":"quantitative","scale":{"type":"log","domain":[1000,10000000],"nice":false},
      "axis":{"orient":"left","values":[2000,3000,4000,5000,6000,7000,8000,9000,20000,30000,40000,50000,60000,70000,80000,90000,200000,300000,400000,500000,600000,700000,800000,900000,2000000,3000000,4000000,5000000,6000000,7000000,8000000,9000000],"labels":false,"tickSize":-13,"tickWidth":1.8,"title":"E-PVE","titleFontSize":20,"titleFontWeight":"bold","titleAngle":-90,"titleX":-112.5,"titleY":312}}
   }},
  {"mark":{"type":"point","opacity":0},
   "encoding":{
    "x":{"field":"x","type":"quantitative","scale":{"type":"log","domain":[0.00001,100],"nice":false},
      "axis":{"orient":"top","values":[0.00001,0.0001,0.001,0.01,0.1,1,10,100],"labels":false,"tickSize":-23,"tickWidth":2.5,"title":"T","titleFontSize":35,"titleAngle":0,"titleX":468.5,"titleY":604}},
    "y":{"field":"y","type":"quantitative","scale":{"type":"log","domain":[1000,10000000],"nice":false},
      "axis":{"orient":"right","values":[1000,10000,100000,1000000,10000000],"labels":false,"tickSize":-25,"tickWidth":2.5,"title":"b)","titleFontSize":36,"titleAngle":0,"titleX":-1025,"titleY":9}}
   }},
  {"mark":{"type":"point","opacity":0},
   "encoding":{
    "x":{"field":"x","type":"quantitative","scale":{"type":"log","domain":[0.00001,100],"nice":false},
      "axis":{"orient":"top","values":[0.00002,0.00003,0.00004,0.00005,0.00006,0.00007,0.00008,0.00009,0.0002,0.0003,0.0004,0.0005,0.0006,0.0007,0.0008,0.0009,0.002,0.003,0.004,0.005,0.006,0.007,0.008,0.009,0.02,0.03,0.04,0.05,0.06,0.07,0.08,0.09,0.2,0.3,0.4,0.5,0.6,0.7,0.8,0.9,2,3,4,5,6,7,8,9,20,30,40,50,60,70,80,90],"labels":false,"tickSize":-12,"tickWidth":1.8,"title":"o","titleFontSize":20,"titleAngle":0,"titleX":497.5,"titleY":614}},
    "y":{"field":"y","type":"quantitative","scale":{"type":"log","domain":[1000,10000000],"nice":false},
      "axis":{"orient":"right","values":[2000,3000,4000,5000,6000,7000,8000,9000,20000,30000,40000,50000,60000,70000,80000,90000,200000,300000,400000,500000,600000,700000,800000,900000,2000000,3000000,4000000,5000000,6000000,7000000,8000000,9000000],"labels":false,"tickSize":-13,"tickWidth":1.8,"title":"= 25°C","titleFontSize":35,"titleAngle":0,"titleX":-351,"titleY":604}}
   }},
  {"mark":{"type":"point","opacity":0},
   "encoding":{
    "x":{"field":"x","type":"quantitative","scale":{"type":"log","domain":[0.00001,100],"nice":false},
      "axis":{"orient":"bottom","values":[0.00001,0.0001,0.001,0.01,0.1,1,10,100],"ticks":false,"labelFontSize":22,"labelPadding":18.5,"labelAlign":"left","labelBaseline":"top","labelOffset":6,"labelExpr":"'' + round(log(datum.value) / LN10)","title":null}},
    "y":{"field":"y","type":"quantitative","scale":{"type":"log","domain":[1000,10000000],"nice":false},
      "axis":{"orient":"left","values":[1000,10000,100000,1000000,10000000],"ticks":false,"labelFontSize":22,"labelPadding":33.5,"labelAlign":"left","labelBaseline":"middle",
       "labelOffset":{"condition":{"test":"datum.value < 2000","value":-25},"value":-14},"labelExpr":"'' + round(log(datum.value) / LN10)","title":null}}
   }}
 ]}
]
}
